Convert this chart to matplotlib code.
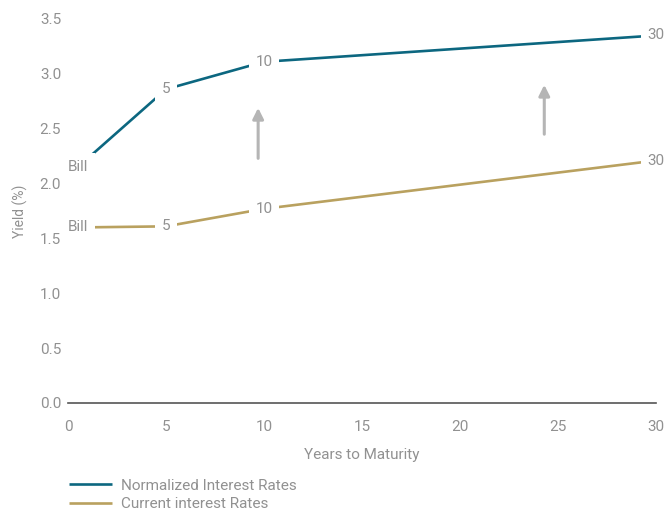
import matplotlib
matplotlib.use("Agg")
import matplotlib.pyplot as plt

plt.rcParams["font.family"] = ["Roboto", "DejaVu Sans"]

# maturity points (years) and yields (%)
maturities = [0.5, 5, 10, 30]
point_labels = ["Bill", "5", "10", "30"]
normalized = [2.15, 2.86, 3.11, 3.35]
current = [1.60, 1.61, 1.77, 2.21]

series_names = ["Normalized Interest Rates", "Current interest Rates"]
x_ticks = [0, 5, 10, 15, 20, 25, 30]
y_ticks = [0.0, 0.5, 1.0, 1.5, 2.0, 2.5, 3.0, 3.5]

# upward shift arrows: (x, y start, y tip)
arrows = [(9.7, 2.23, 2.69), (24.3, 2.45, 2.90)]

TEAL = "#0c6780"
GOLD = "#b9a15f"
GREY_TXT = "#919191"
ARROW = "#b5b5b5"

fig = plt.figure(figsize=(6.67, 5.08), dpi=100)
ax = fig.add_axes([0.102, 0.2067, 0.8815, 0.7559])

lines = []
for vals, color, name in [(normalized, TEAL, series_names[0]),
                          (current, GOLD, series_names[1])]:
    ln, = ax.plot(maturities, vals, color=color, lw=1.9, label=name,
                  solid_capstyle="butt", zorder=2, clip_on=False)
    lines.append(ln)
    for x, y, lab in zip(maturities, vals, point_labels):
        ax.text(x, y, lab, ha="center", va="center", fontsize=11,
                color=GREY_TXT, zorder=3, clip_on=False,
                bbox=dict(boxstyle="square,pad=0.45", fc="white", ec="none"))

for x, y0, y1 in arrows:
    ax.annotate("", xy=(x, y1), xytext=(x, y0),
                arrowprops=dict(arrowstyle="-|>", color=ARROW, lw=2.2,
                                mutation_scale=16, shrinkA=0, shrinkB=0))

ax.set_xlim(0, 30)
ax.set_ylim(0, 3.5)
ax.set_xticks(x_ticks)
ax.set_yticks(y_ticks)
ax.set_yticklabels([f"{v:.1f}" for v in y_ticks])
ax.tick_params(axis="x", length=0, pad=12, labelsize=11, labelcolor=GREY_TXT)
ax.tick_params(axis="y", length=0, pad=5, labelsize=11, labelcolor=GREY_TXT)
ax.spines[["top", "right", "left"]].set_visible(False)
ax.spines["bottom"].set_color("#555555")
ax.spines["bottom"].set_linewidth(1.2)

ax.set_xlabel("Years to Maturity", fontsize=11, color=GREY_TXT, labelpad=10)
ax.set_ylabel("Yield (%)", fontsize=10, color=GREY_TXT, labelpad=8)

fig.legend(handles=lines, loc="upper left", bbox_to_anchor=(0.083, 0.085),
           bbox_transform=fig.transFigure, frameon=False, fontsize=11,
           handlelength=2.8, handletextpad=0.6, labelspacing=0.3,
           labelcolor=GREY_TXT)

fig.savefig("out.png", dpi=100)
